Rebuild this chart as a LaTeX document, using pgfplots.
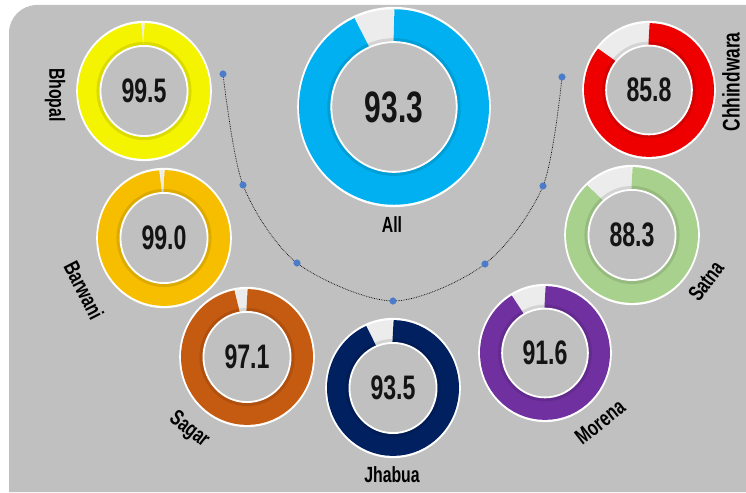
\documentclass[border=0pt]{standalone}
\usepackage{pgfplots}
\pgfplotsset{compat=1.18}
\usepackage{fontspec}
\setmainfont{Liberation Sans}
\newfontfamily\numfont[FakeStretch=0.68]{Liberation Sans}
\newfontfamily\labfont[FakeStretch=0.72]{Liberation Sans}
\definecolor{bgc}{HTML}{C0C0C0}
\definecolor{allc}{HTML}{00B0F0}
\definecolor{bhc}{HTML}{F4F400}
\definecolor{chc}{HTML}{EE0000}
\definecolor{barc}{HTML}{F7BE00}
\definecolor{satc}{HTML}{A9D18E}
\definecolor{sagc}{HTML}{C55A11}
\definecolor{jhc}{HTML}{002060}
\definecolor{morc}{HTML}{7030A0}
\definecolor{gapc}{HTML}{ECECEC}
\definecolor{dotc}{HTML}{4A7CC9}
\definecolor{numc}{HTML}{141414}
% #1 cx, #2 cy, #3 outer radius, #4 value, #5 colour, #6 font size
\newcommand{\donut}[6]{%
  \fill[white] (axis cs:#1,#2) ellipse [x radius={#3*1pt+1.8pt}, y radius={1.035*#3*1pt+1.8pt}];
  \draw[gapc, line width={0.34*#3*1pt}] ([shift={(90:{0.83*#3*1pt} and {0.83*1.035*#3*1pt})}]axis cs:#1,#2)
     arc [start angle=90, end angle={90+3.6*(100-#4)}, x radius={0.83*#3*1pt}, y radius={0.83*1.035*#3*1pt}];
  \draw[#5, line width={0.34*#3*1pt}] ([shift={(90:{0.83*#3*1pt} and {0.83*1.035*#3*1pt})}]axis cs:#1,#2)
     arc [start angle=90, end angle={90-3.6*#4}, x radius={0.83*#3*1pt}, y radius={0.83*1.035*#3*1pt}];
  \draw[black, opacity=0.10, line width=4pt] (axis cs:#1,#2) ellipse [x radius={0.66*#3*1pt+2pt}, y radius={0.66*1.035*#3*1pt+2pt}];
  \filldraw[fill=bgc, draw=white, line width=1.8pt] (axis cs:#1,#2) ellipse [x radius={0.66*#3*1pt}, y radius={0.66*1.035*#3*1pt}];
  \node[text=numc, font={\numfont\bfseries\fontsize{#6}{#6}\selectfont}] at (axis cs:#1,#2) {#4};
}
\begin{document}
\begin{tikzpicture}
\begin{axis}[scale only axis, width=746pt, height=492pt,
  xmin=0, xmax=746, ymin=0, ymax=492, hide axis, clip=false]
  % page and panel background
  \fill[white] (axis cs:0,0) rectangle (axis cs:746,492);
  \fill[bgc] (axis cs:9,0) -- (axis cs:9,440) [rounded corners=28pt] -- (axis cs:9,487) [sharp corners] -- (axis cs:746,487) -- (axis cs:746,0) -- cycle;
  % dotted arc and its points
  \addplot[smooth, densely dotted, black, line width=0.7pt] coordinates {
    (223,418) (243,307) (297,229) (393,191) (485,228) (543,306) (562,415)};
  \addplot[only marks, mark=*, mark size=3.3pt, color=dotc] coordinates {
    (223,418) (243,307) (297,229) (393,191) (485,228) (543,306) (562,415)};
  % donuts
  \donut{394}{385}{95}{93.3}{allc}{44}
  \donut{144}{401}{66}{99.5}{bhc}{34}
  \donut{649}{402}{65}{85.8}{chc}{34}
  \donut{164}{254}{66}{99.0}{barc}{34}
  \donut{632}{257}{66}{88.3}{satc}{34}
  \donut{247}{135}{66}{97.1}{sagc}{34}
  \donut{393}{104}{66}{93.5}{jhc}{34}
  \donut{545}{139}{65}{91.6}{morc}{34}
  % labels
  \node[font={\labfont\bfseries\fontsize{22}{22}\selectfont}] at (axis cs:392,267) {All};
  \node[font={\labfont\bfseries\fontsize{22}{22}\selectfont}, rotate=-90] at (axis cs:55,397) {Bhopal};
  \node[font={\labfont\bfseries\fontsize{24}{24}\selectfont}, rotate=90] at (axis cs:731,410) {Chhindwara};
  \node[font={\labfont\bfseries\fontsize{22}{22}\selectfont}, rotate=-63] at (axis cs:84,202) {Barwani};
  \node[font={\labfont\bfseries\fontsize{22}{22}\selectfont}, rotate=-38] at (axis cs:189,62) {Sagar};
  \node[font={\labfont\bfseries\fontsize{22}{22}\selectfont}] at (axis cs:392,17) {Jhabua};
  \node[font={\labfont\bfseries\fontsize{22}{22}\selectfont}, rotate=38] at (axis cs:600,70) {Morena};
  \node[font={\labfont\bfseries\fontsize{22}{22}\selectfont}, rotate=53] at (axis cs:706,211) {Satna};
\end{axis}
\end{tikzpicture}
\end{document}
